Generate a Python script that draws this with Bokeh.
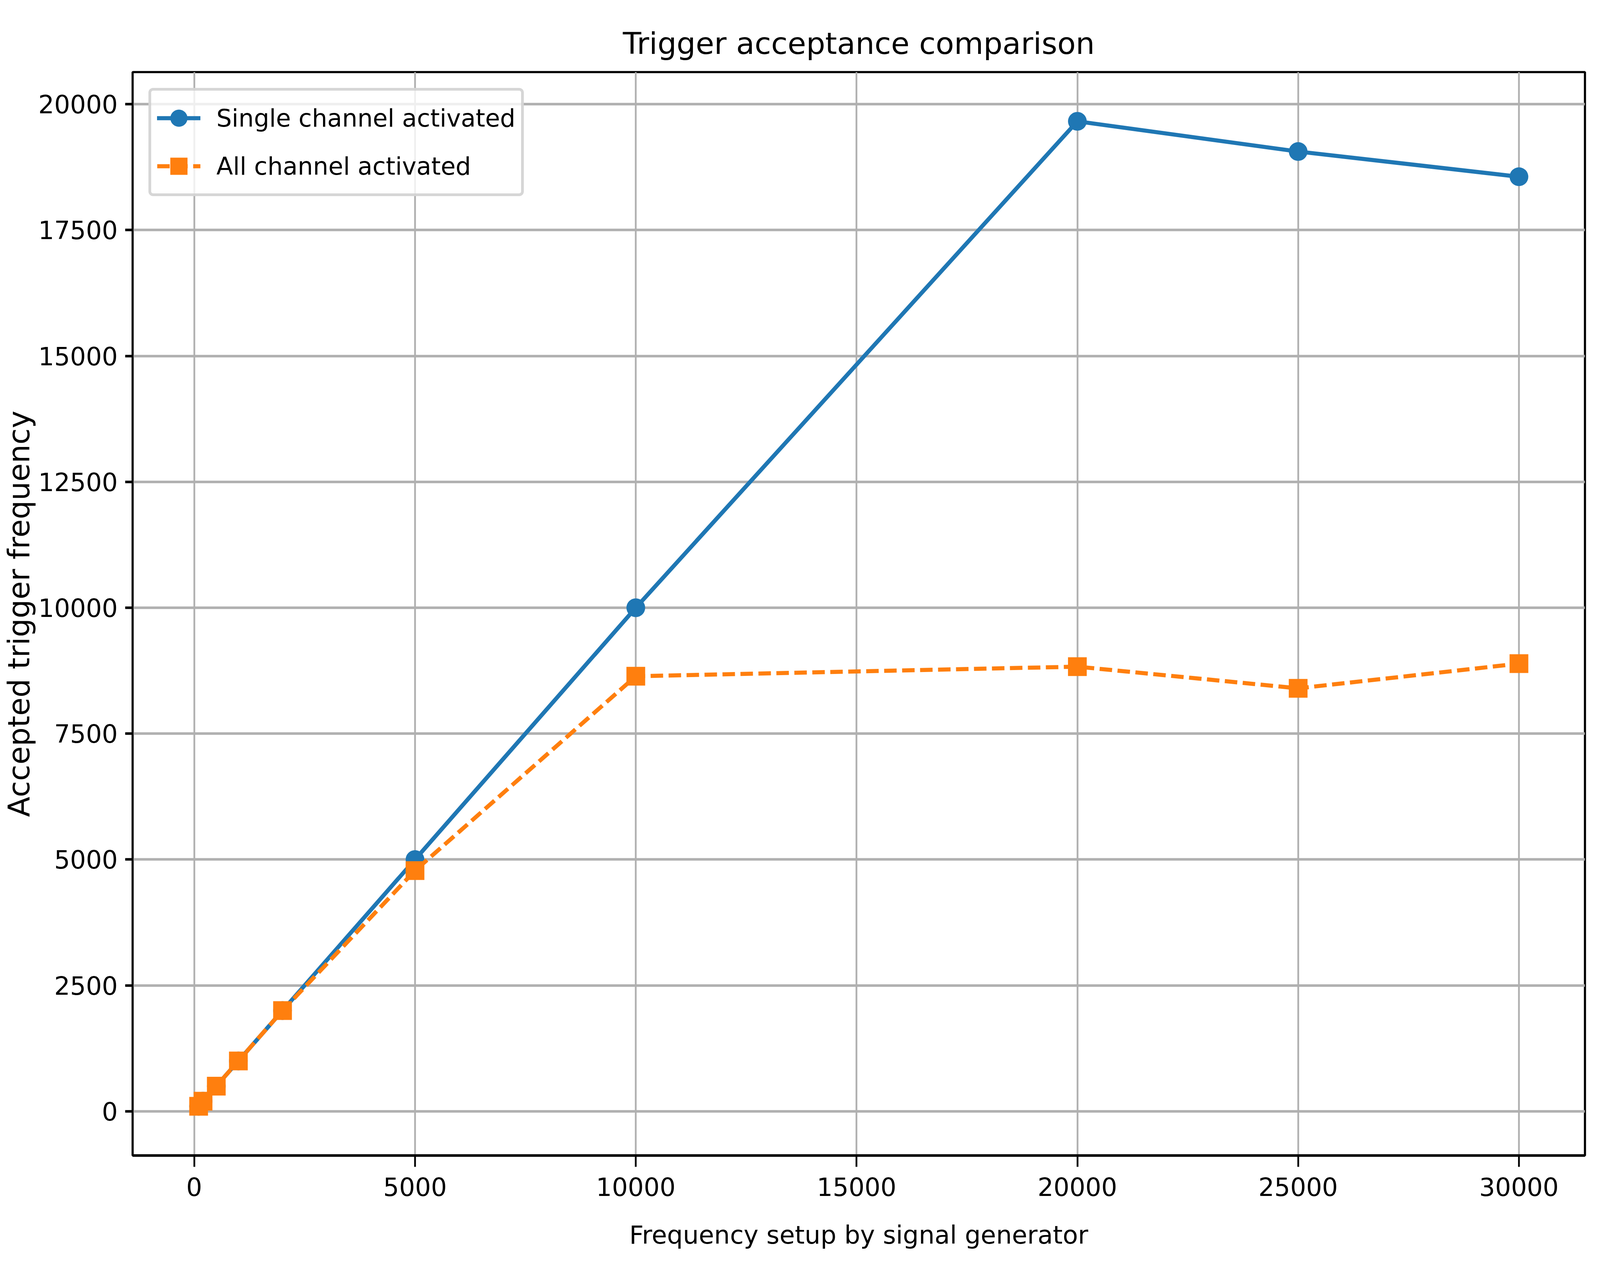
from bokeh.plotting import figure
from bokeh.models import Range1d, SingleIntervalTicker
from bokeh.embed import file_html
from bokeh.resources import INLINE

# ---- data ----
freq = [100, 200, 500, 1000, 2000, 5000, 10000, 20000, 25000, 30000]
single_channel = [100, 200, 500, 1000, 2000, 5000, 10000, 19660, 19060, 18560]
all_channel = [100, 200, 500, 1000, 2000, 4780, 8640, 8830, 8400, 8890]

title_text = "Trigger acceptance comparison"
x_label = "Frequency setup by signal generator"
y_label = "Accepted trigger frequency"
label_single = "Single channel activated"
label_all = "All channel activated"

FONT = "DejaVu Sans"
BLUE = "#1f77b4"
ORANGE = "#ff7f0e"

# matplotlib-like 5% margins around the data
xmin, xmax = min(freq), max(freq)
allv = single_channel + all_channel
ymin, ymax = min(allv), max(allv)
xpad = 0.05 * (xmax - xmin)
ypad = 0.05 * (ymax - ymin)

W, H = 4080, 3255
left, right, top, bottom = 332, 4057, 184, 2957
p = figure(
    width=W, height=H,
    output_backend="svg", toolbar_location=None,
    x_range=Range1d(xmin - xpad, xmax + xpad),
    y_range=Range1d(ymin - ypad, ymax + ypad),
    min_border_left=left, min_border_right=W - right,
    min_border_top=top, min_border_bottom=H - bottom,
    title=title_text,
)
p.background_fill_color = "white"
p.border_fill_color = "white"
p.outline_line_color = "black"
p.outline_line_width = 5.5

# title
p.title.text_font = FONT
p.title.text_font_size = "77px"
p.title.text_font_style = "normal"
p.title.text_color = "black"
p.title.align = "center"
p.title.standoff = 58

# grid
p.xgrid.grid_line_color = "#b0b0b0"
p.xgrid.grid_line_width = 4.5
p.ygrid.grid_line_color = "#b0b0b0"
p.ygrid.grid_line_width = 6.7

# axes
p.xaxis.ticker = SingleIntervalTicker(interval=5000, num_minor_ticks=0)
p.yaxis.ticker = SingleIntervalTicker(interval=2500, num_minor_ticks=0)
for ax in (p.xaxis, p.yaxis):
    ax.axis_line_color = "black"
    ax.major_tick_in = 0
    ax.major_tick_line_color = "black"
    ax.minor_tick_line_color = None
    ax.major_label_text_font = FONT
    ax.major_label_text_font_size = "64px"
    ax.major_label_text_color = "black"
    ax.axis_label_text_font = FONT
    ax.axis_label_text_font_style = "normal"
    ax.axis_label_text_color = "black"

p.xaxis.axis_line_width = 6.7
p.xaxis.major_tick_line_width = 4.5
p.xaxis.major_tick_out = 29
p.xaxis.major_label_standoff = 27
p.xaxis.axis_label = x_label
p.xaxis.axis_label_text_font_size = "64px"
p.xaxis.axis_label_standoff = 60

p.yaxis.axis_line_width = 4.5
p.yaxis.major_tick_line_width = 6.7
p.yaxis.major_tick_out = 19
p.yaxis.major_label_standoff = 19
p.yaxis.axis_label = y_label
p.yaxis.axis_label_text_font_size = "76px"
p.yaxis.axis_label_standoff = 2

# series
p.line(freq, single_channel, line_color=BLUE, line_width=10.5, line_cap="square",
       legend_label=label_single)
p.scatter(freq, single_channel, marker="circle", size=48, fill_color=BLUE,
          line_color=None, legend_label=label_single)
p.line(freq, all_channel, line_color=ORANGE, line_width=10.5,
       line_dash="32 14", legend_label=label_all)
p.scatter(freq, all_channel, marker="square", size=48, fill_color=ORANGE,
          line_color=None, legend_label=label_all)

# legend
lg = p.legend[0]
lg.location = "top_left"
lg.margin = 41
lg.padding = 15
lg.spacing = 13
lg.glyph_height = 110
lg.glyph_width = 111
lg.label_standoff = 41
lg.label_text_font = FONT
lg.label_text_font_size = "62px"
lg.label_text_color = "black"
lg.border_line_color = "#cccccc"
lg.border_line_width = 7
lg.border_line_alpha = 0.8
lg.background_fill_color = "white"
lg.background_fill_alpha = 0.8
if "border_radius" in lg.properties():
    lg.border_radius = 12

open("out.html", "w").write(file_html(p, INLINE))
